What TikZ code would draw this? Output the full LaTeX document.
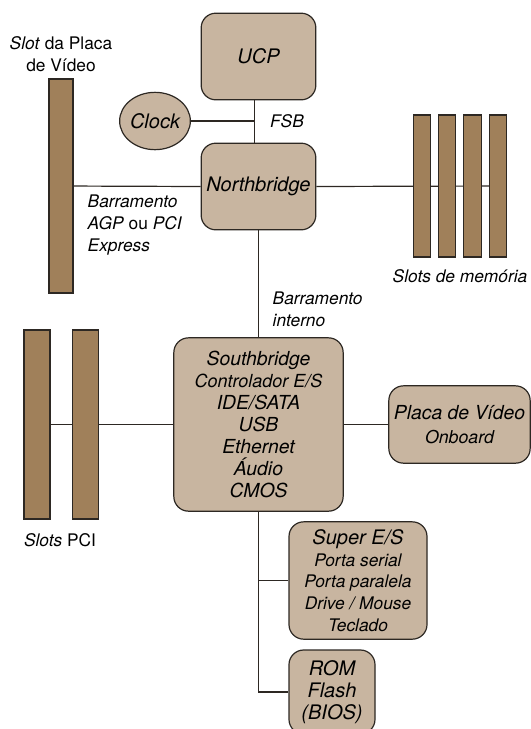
\documentclass[tikz,border=0pt]{standalone}
\usepackage{fontspec}
\setmainfont{TeX Gyre Heros}
\usetikzlibrary{shapes.geometric,backgrounds}
\definecolor{chipTan}{RGB}{200,181,160}
\definecolor{slotBrown}{RGB}{160,128,90}
\definecolor{edgeGray}{RGB}{45,40,35}

\begin{document}
\begin{tikzpicture}[
        x=0.75pt,
        y=-0.75pt,
        chip/.style={
            rectangle,
            draw=edgeGray,
            line width=0.9pt,
            rounded corners=11pt,
            fill=chipTan,
            inner sep=0pt,
            align=center,
            font=\fontsize{15}{16.5}\selectfont\itshape
        },
        clockChip/.style={
            ellipse,
            draw=edgeGray,
            line width=0.9pt,
            fill=chipTan,
            inner sep=0pt,
            minimum width=51pt,
            minimum height=43pt,
            font=\fontsize{15}{16.5}\selectfont\itshape
        },
        slot/.style={
            rectangle,
            draw=edgeGray,
            line width=0.8pt,
            fill=slotBrown,
            inner sep=0pt
        },
        bus/.style={
            draw=edgeGray,
            line width=0.9pt
        },
        labelText/.style={
            font=\fontsize{13}{16.5}\selectfont
        }
    ]

        \useasboundingbox (0,0) rectangle (531,729);

        \node[chip, minimum width=86pt, minimum height=65pt] (ucp) at (258.5,56.5) {UCP};
        \node[chip, minimum width=86pt, minimum height=65pt] (nb) at (258.5,186.5) {Northbridge};
        \node[clockChip] (clock) at (155,121) {Clock};

        \node[chip, minimum width=127pt, minimum height=130pt,
            font=\fontsize{14.5}{16.5}\selectfont\itshape] (sb) at (258.5,424.5)
            {Southbridge\\{\fontsize{13.5}{16.5}\selectfont Controlador E/S}\\IDE/SATA\\USB\\Ethernet\\Áudio\\CMOS};
        \node[chip, minimum width=106pt, minimum height=58pt,
            font=\fontsize{14.5}{18}\selectfont\itshape] (vga) at (459.5,424.5)
            {Placa de Vídeo\\{\fontsize{13.3}{18}\selectfont Onboard}};
        \node[chip, minimum width=103.5pt, minimum height=88pt,
            font=\fontsize{15}{16.3}\selectfont\itshape] (superio) at (358,580.5)
            {Super E/S\\{\fontsize{13}{16.3}\selectfont Porta serial}\\{\fontsize{13}{16.3}\selectfont Porta paralela}\\{\fontsize{13}{16.3}\selectfont Drive / Mouse}\\{\fontsize{13}{16.3}\selectfont Teclado}};
        \node[chip, minimum width=64.5pt, minimum height=63pt,
            font=\fontsize{15}{16.5}\selectfont\itshape] (rom) at (332,692)
            {ROM\\Flash\\(BIOS)};

        \node[slot, minimum width=18pt, minimum height=160.5pt] (vslot) at (61,186) {};
        \foreach \i/\x in {1/422,2/447,3/472.5,4/498} {
            \node[slot, minimum width=13pt, minimum height=106.5pt] (mem\i) at (\x,186) {};
        }
        \foreach \i/\x in {1/37,2/85.5} {
            \node[slot, minimum width=19.5pt, minimum height=141.75pt] (pci\i) at (\x,424.5) {};
        }

        \coordinate (fsb) at ([xshift=-3pt]ucp.south);
        \begin{scope}[on background layer]
            \draw[bus] (fsb) -- (fsb |- nb.north);
            \draw[bus] (clock.east) -- (clock.east -| fsb);
            \draw[bus] (vslot.center) -- (nb.west);
            \draw[bus] (nb.east) -- (mem4.center);
            \draw[bus] (nb.south) -- (sb.north);
            \draw[bus] (pci1.center) -- (sb.west);
            \draw[bus] (sb.east) -- (vga.west);
            \draw[bus] (sb.south) |- (rom.west);
            \draw[bus] (sb.south |- superio.west) -- (superio.west);
        \end{scope}

        \node[labelText, align=center] (vslotLabel) at (61,54) {\textit{Slot} da Placa\\de Vídeo};
        \node[labelText, align=left, anchor=west] (agpLabel) at (83,225) {\textit{Barramento}\\\textit{AGP} ou \textit{PCI}\\\textit{Express}};
        \node[labelText] (fsbLabel) at (287,121) {\textit{FSB}};
        \node[labelText, align=left, anchor=west] (intLabel) at (268,309) {\textit{Barramento}\\\textit{interno}};
        \node[labelText] (memLabel) at (460,276) {\textit{Slots de memória}};
        \node[labelText] (pciLabel) at (60,540) {\textit{Slots} PCI};

    \end{tikzpicture}
\end{document}
